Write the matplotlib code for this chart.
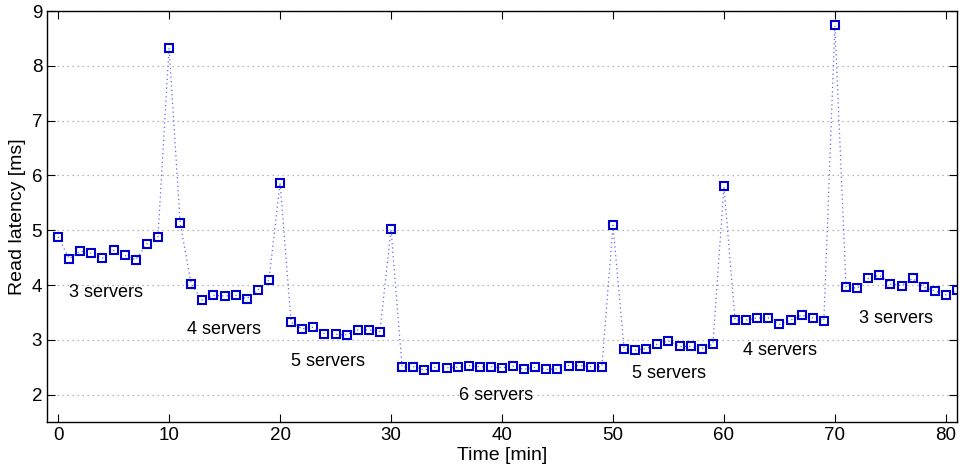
import matplotlib
matplotlib.use("Agg")
import matplotlib.pyplot as plt
import numpy as np

plt.rcParams['font.family'] = ['Liberation Sans', 'DejaVu Sans']

minutes = list(range(0, 82))
latency_ms = [
    4.88, 4.48, 4.62, 4.58, 4.49, 4.63, 4.54, 4.46, 4.75, 4.88,
    8.33, 5.13, 4.01, 3.72, 3.81, 3.80, 3.81, 3.75, 3.91, 4.09,
    5.87, 3.32, 3.20, 3.23, 3.11, 3.10, 3.09, 3.18, 3.18, 3.15,
    5.02, 2.50, 2.51, 2.45, 2.50, 2.49, 2.50, 2.53, 2.51, 2.51,
    2.49, 2.52, 2.46, 2.50, 2.46, 2.47, 2.53, 2.53, 2.51, 2.51,
    5.09, 2.84, 2.81, 2.84, 2.92, 2.98, 2.88, 2.88, 2.84, 2.92,
    5.80, 3.36, 3.36, 3.40, 3.40, 3.28, 3.36, 3.45, 3.40, 3.35,
    8.74, 3.97, 3.94, 4.12, 4.18, 4.02, 3.99, 4.12, 3.96, 3.89,
    3.82, 3.90,
]

phase_labels = ["3 servers", "4 servers", "5 servers", "6 servers",
                "5 servers", "4 servers", "3 servers"]
phase_label_x = [1.0, 11.6, 21.0, 36.1, 51.7, 61.7, 72.2]
phase_label_y = [3.87, 3.18, 2.60, 1.99, 2.39, 2.80, 3.38]

x_ticks = [0, 10, 20, 30, 40, 50, 60, 70, 80]
y_ticks = [2, 3, 4, 5, 6, 7, 8, 9]

fig = plt.figure(figsize=(9.63, 4.73), dpi=100)
ax = fig.add_axes([47 / 963, 51 / 473, 910 / 963, 411 / 473])

ax.plot(minutes, latency_ms, linestyle=(0, (1, 2.5)), color='#6666ee', linewidth=0.9,
        marker='s', markersize=6, markerfacecolor='none',
        markeredgecolor='#0000cc', markeredgewidth=1.5, clip_on=True)

for label, lx, ly in zip(phase_labels, phase_label_x, phase_label_y):
    ax.text(lx, ly, label, fontsize=13, ha='left', va='center', color='black')

ax.set_xlim(-1, 81)
ax.set_ylim(1.5, 9)
ax.set_xticks(x_ticks)
ax.set_yticks(y_ticks)
ax.tick_params(direction='in', top=True, right=True, labelsize=13.5,
               length=6, width=0.8)
ax.grid(axis='y', linestyle=(0, (1, 3)), color='#a0a0a0', linewidth=0.9)
ax.set_axisbelow(True)
for spine in ax.spines.values():
    spine.set_linewidth(1.0)

ax.set_xlabel("Time [min]", fontsize=14, labelpad=2)
ax.set_ylabel("Read latency [ms]", fontsize=14, labelpad=4)

fig.savefig("out.png", dpi=100)
